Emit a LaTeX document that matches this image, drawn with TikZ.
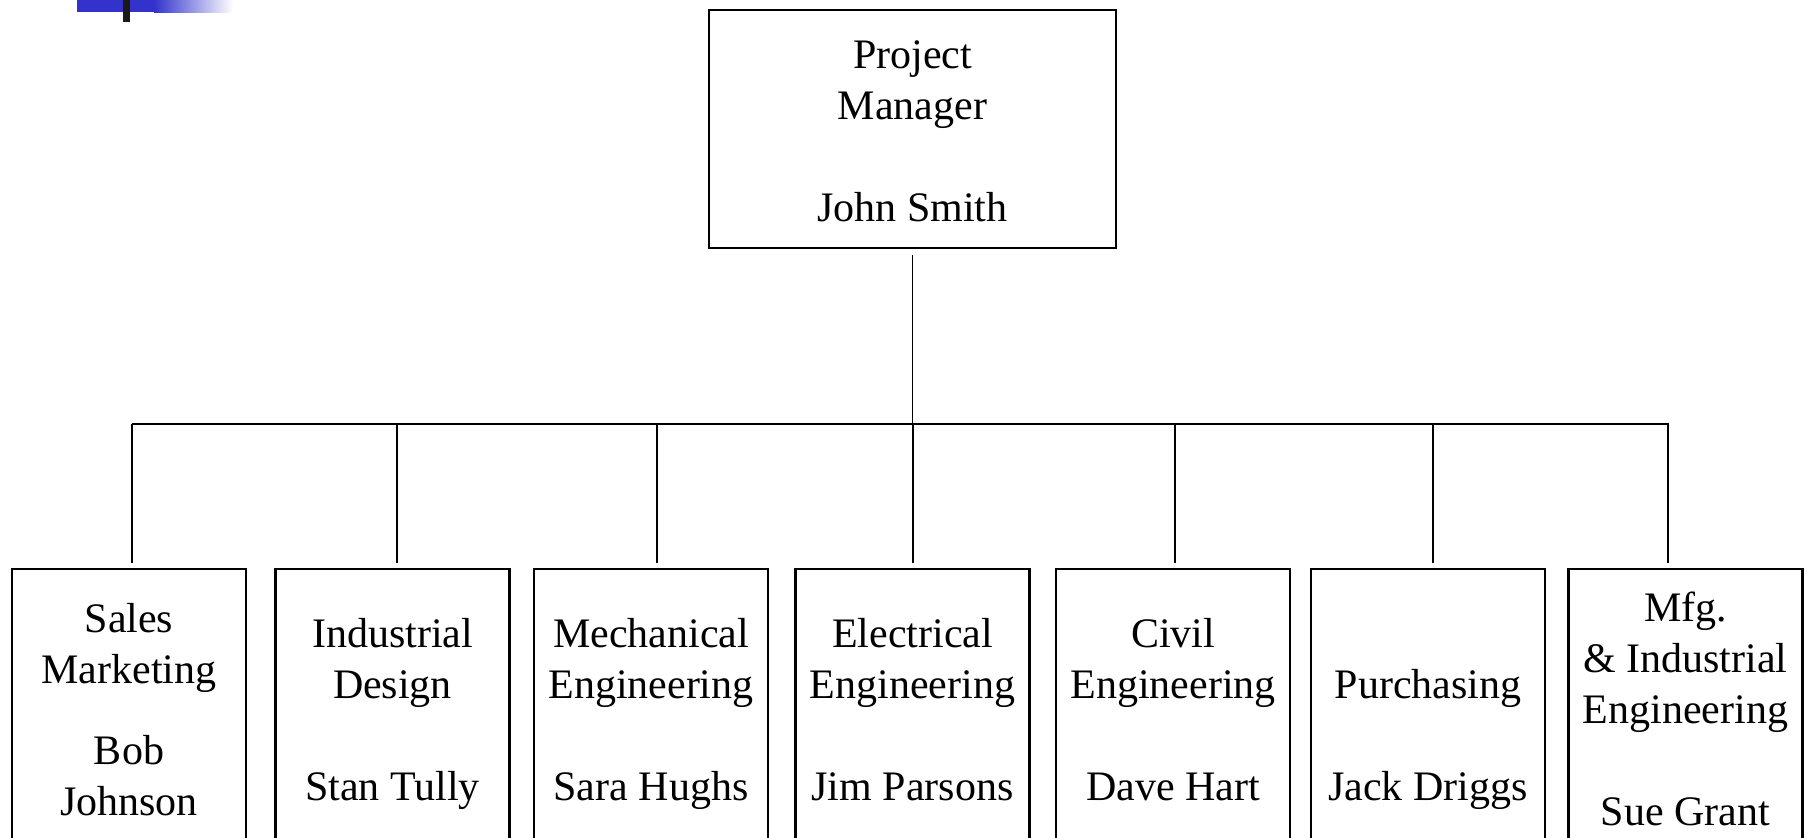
\documentclass[tikz,border=0pt]{standalone}
\usepackage{fontspec}
\setmainfont{Liberation Serif}
\usetikzlibrary{positioning}
\definecolor{cornerblue}{RGB}{51,51,204}
\newcommand{\ls}{\rule[-10pt]{0pt}{51pt}}% full line height, so descenders do not move the text

\begin{document}
\begin{tikzpicture}[x=1pt,y=-1pt]
	\tikzstyle{every node}=[font=\fontsize{42}{51}\selectfont]
	\tikzstyle{dept}=[draw, line width=2.5pt, minimum width=234pt, minimum height=278pt, align=center, inner sep=0pt]
	\tikzstyle{link}=[line width=1.8pt]

	\useasboundingbox (0,0) rectangle (1810,838);
	\clip (0,0) rectangle (1810,838);

	% the little slide mark up in the corner
	\fill[cornerblue] (77,0) rectangle (154,12);
	\shade[left color=cornerblue, right color=white] (154,0) rectangle (233,12.7);
	\fill[black!90] (123,0) rectangle (130,22);

	% the boss on top
	\node[draw, line width=2.5pt, minimum width=407pt, minimum height=238pt, align=center] (pm) at (912.5,129) {\ls Project\\Manager\\[51pt]John Smith\ls};

	% the departments, they run off the bottom of the page
	\node[dept] (sales) at (129,708) {\ls Sales\\Marketing\\[30pt]Bob\\Johnson\ls};
	\node[dept] (design) at (392.5,708) {\ls Industrial\\Design\\[51pt]Stan Tully\ls};
	\node[dept] (mech) at (651,708) {\ls Mechanical\\Engineering\\[51pt]Sara Hughs\ls};
	\node[dept] (elec) at (912.5,708) {\ls Electrical\\Engineering\\[51pt]Jim Parsons\ls};
	\node[dept] (civil) at (1173,708) {\ls Civil\\Engineering\\[51pt]Dave Hart\ls};
	\node[dept] (purch) at (1428,708) {\ls\\Purchasing\\[51pt]Jack Driggs\ls};
	\node[dept] (mfg) at (1685.5,708) {\ls Mfg.\\\& Industrial\\Engineering\\[51pt]Sue Grant\ls};

	% the bus line
	\coordinate (busL) at (132,424);
	\coordinate (busR) at (1669,424);
	\draw[link] (busL) -- (busR);
	\draw[link] ([yshift=-6pt]pm.south) -- (pm.south |- busL);

	\foreach \n/\dx in {sales/3, design/4.5, mech/6, elec/0.5, civil/2, purch/5, mfg/-17.5}
		\draw[link] ([xshift=\dx pt,yshift=5pt]\n.north) -- ([xshift=\dx pt]\n.north |- busL);
\end{tikzpicture}
\end{document}
